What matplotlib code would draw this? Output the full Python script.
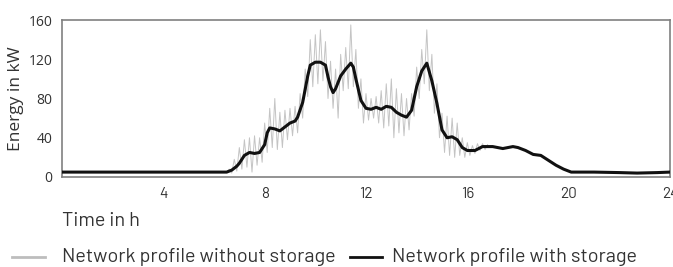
import numpy as np
import matplotlib
matplotlib.use("Agg")
import matplotlib.pyplot as plt
from matplotlib.lines import Line2D

# Smoothed profile (with storage)
t_with = [0, 1, 2, 3, 4, 5, 6, 6.5, 6.7, 6.9, 7.0, 7.2, 7.4, 7.6, 7.8, 8.0, 8.1, 8.2, 8.4, 8.6,
          8.8, 9.0, 9.2, 9.3, 9.5, 9.7, 9.8, 10.0, 10.2, 10.4, 10.5, 10.6, 10.7, 10.8, 11.0, 11.2,
          11.4, 11.5, 11.6, 11.8, 12.0, 12.2, 12.4, 12.6, 12.8, 13.0, 13.2, 13.4, 13.6, 13.8, 14.0,
          14.2, 14.4, 14.6, 14.8, 15.0, 15.2, 15.4, 15.6, 15.8, 16.0, 16.3, 16.6, 17.0, 17.4, 17.8,
          18.0, 18.3, 18.6, 18.9, 19.2, 19.5, 19.8, 20.1, 21, 22, 22.7, 23.5, 24]
p_with = [5, 5, 5, 5, 5, 5, 5, 5, 7, 11, 14, 22, 25, 24, 25, 33, 45, 50, 49, 47,
          51, 55, 57, 61, 76, 103, 114, 117, 117, 114, 102, 92, 86, 90, 103, 110,
          116, 112, 100, 78, 70, 69, 71, 69, 72, 71, 66, 63, 61, 68, 92,
          108, 116, 98, 75, 48, 40, 41, 38, 30, 27, 27, 31, 31, 29, 31,
          30, 27, 23, 22, 17, 12, 8, 5, 5, 4.5, 4, 4.5, 5]

# Raw profile (without storage), 0.1 h steps from 6.5 h to 16.8 h
t_without_start = 6.5
p_without = [5, 8, 4, 18, 6, 30, 8, 38, 10, 40, 5, 42, 12, 40, 15, 55, 25, 70, 30, 80,
             28, 66, 30, 68, 38, 70, 42, 72, 45, 85, 60, 110, 82, 140, 92, 145, 95, 150, 98, 138,
             80, 118, 70, 110, 60, 125, 88, 132, 90, 155, 92, 130, 70, 100, 55, 85, 58, 80, 60, 82,
             55, 88, 50, 95, 52, 100, 40, 90, 45, 85, 42, 80, 48, 85, 62, 112, 80, 130, 95, 150,
             88, 125, 65, 95, 40, 65, 25, 62, 22, 60, 20, 55, 22, 40, 20, 35, 22, 32, 24, 34,
             27, 34, 28, 33]
t_without = t_without_start + 0.1 * np.arange(len(p_without))

x_ticks = [4, 8, 12, 16, 20, 24]
y_ticks = [0, 40, 80, 120, 160]
labels = ["Network profile without storage", "Network profile with storage"]

W, H = 673, 267
txt = "#333333"
din = ["Barlow", "DejaVu Sans"]
sans = ["Open Sans", "DejaVu Sans"]

fig = plt.figure(figsize=(W / 100, H / 100), dpi=100)
ax = fig.add_axes([62 / W, 1 - 177 / H, 608 / W, 157 / H])
ax.plot(t_with, p_with, color="#cccccc", lw=1.0, zorder=1)
ax.plot(t_without, p_without, color="#c4c4c4", lw=0.7, zorder=1)
ax.plot(t_with, p_with, color="#111111", lw=2.2, zorder=3)

ax.set_xlim(0, 24)
ax.set_ylim(0, 160)
ax.set_xticks(x_ticks)
ax.set_yticks(y_ticks)
ax.tick_params(axis="x", length=0, pad=7)
ax.tick_params(axis="y", length=0, pad=7)
for lab in ax.get_xticklabels():
    lab.set_fontfamily(din)
    lab.set_fontsize(11)
    lab.set_color(txt)
for lab in ax.get_yticklabels():
    lab.set_fontfamily(sans)
    lab.set_fontsize(10)
    lab.set_color(txt)
for s in ax.spines.values():
    s.set_color("#808080")
    s.set_linewidth(1.2)

ax.set_ylabel("Energy in kW", fontsize=12.5, color=txt, family=sans, labelpad=3)
fig.text(62 / W, 1 - 221 / H, "Time in h", fontsize=14.3, color=txt,
         family=din, va="center", ha="left")

# legend drawn manually at the bottom
ly = 1 - 257 / H
fig.add_artist(Line2D([12 / W, 45 / W], [ly, ly], color="#bdbdbd", lw=2, transform=fig.transFigure))
fig.text(62 / W, ly, labels[0], fontsize=14.3, color=txt, family=din, va="center", ha="left")
fig.add_artist(Line2D([350 / W, 382 / W], [ly, ly], color="#111111", lw=2, transform=fig.transFigure))
fig.text(392 / W, ly, labels[1], fontsize=14.3, color=txt, family=din, va="center", ha="left")

fig.savefig("out.png", dpi=100)
